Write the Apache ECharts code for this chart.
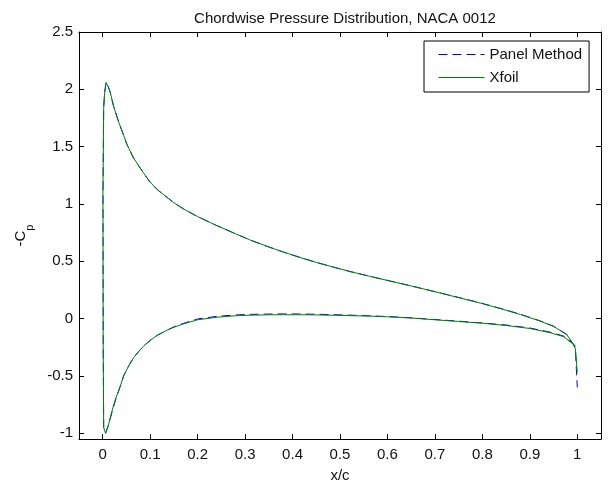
<!DOCTYPE html>
<html><head><meta charset="utf-8">
<script src="https://cdn.jsdelivr.net/npm/echarts@6/dist/echarts.min.js"></script>
<style>html,body{margin:0;padding:0;background:#fff}#c{width:608px;height:488px}</style>
</head><body><div id="c"></div>
<script>
const titleText = 'Chordwise Pressure Distribution, NACA 0012';
const seriesNames = ['Panel Method', 'Xfoil'];
const xTicks = [0, 0.1, 0.2, 0.3, 0.4, 0.5, 0.6, 0.7, 0.8, 0.9, 1];
const yTicks = [-1, -0.5, 0, 0.5, 1, 1.5, 2, 2.5];

// lower surface, leading edge -> trailing edge
const xLower = [0.001, 0.002, 0.006, 0.012, 0.016, 0.022, 0.027, 0.037, 0.044, 0.055, 0.065, 0.075, 0.086, 0.1, 0.115, 0.136, 0.15, 0.171, 0.2, 0.241, 0.28, 0.311, 0.35, 0.381, 0.42, 0.452, 0.49, 0.522, 0.56, 0.6, 0.65, 0.7, 0.75, 0.8, 0.85, 0.9, 0.943, 0.971, 0.989, 0.996];
const cpLowerPanel = [-0.22, -0.95, -1.0, -0.93, -0.87, -0.78, -0.71, -0.59, -0.50, -0.41, -0.34, -0.29, -0.24, -0.19, -0.145, -0.10, -0.072, -0.04, -0.003, 0.02, 0.032, 0.037, 0.04, 0.041, 0.04, 0.038, 0.034, 0.03, 0.025, 0.018, 0.007, -0.008, -0.022, -0.038, -0.056, -0.082, -0.118, -0.152, -0.21, -0.24];
const cpLowerXfoil = [-0.22, -0.95, -1.0, -0.93, -0.86, -0.77, -0.70, -0.59, -0.50, -0.41, -0.34, -0.29, -0.24, -0.19, -0.145, -0.10, -0.075, -0.045, -0.01, 0.012, 0.025, 0.03, 0.033, 0.034, 0.034, 0.032, 0.029, 0.026, 0.022, 0.016, 0.005, -0.01, -0.025, -0.04, -0.06, -0.086, -0.123, -0.157, -0.215, -0.24];

// upper surface, leading edge -> trailing edge
const xUpper = [0.0005, 0.002, 0.004, 0.007, 0.009, 0.012, 0.016, 0.023, 0.034, 0.044, 0.051, 0.065, 0.086, 0.1, 0.115, 0.15, 0.171, 0.2, 0.241, 0.28, 0.311, 0.35, 0.381, 0.42, 0.452, 0.49, 0.522, 0.56, 0.6, 0.65, 0.7, 0.75, 0.796, 0.84, 0.88, 0.922, 0.95, 0.978, 0.992, 0.996, 1.0];
const cpUpperPanel = [1.09, 1.84, 1.97, 2.06, 2.07, 2.02, 1.97, 1.85, 1.71, 1.60, 1.52, 1.40, 1.27, 1.19, 1.125, 1.01, 0.955, 0.89, 0.81, 0.74, 0.685, 0.625, 0.58, 0.528, 0.488, 0.445, 0.41, 0.372, 0.333, 0.285, 0.235, 0.185, 0.137, 0.087, 0.038, -0.02, -0.066, -0.138, -0.226, -0.26, -0.6];
const cpUpperXfoil = [1.09, 1.84, 1.97, 2.06, 2.07, 2.02, 1.97, 1.85, 1.71, 1.60, 1.52, 1.40, 1.27, 1.19, 1.125, 1.01, 0.955, 0.89, 0.81, 0.74, 0.685, 0.625, 0.58, 0.528, 0.488, 0.445, 0.41, 0.372, 0.333, 0.285, 0.235, 0.183, 0.135, 0.085, 0.036, -0.022, -0.068, -0.14, -0.228, -0.26, -0.47];

function surfacePath(xl, yl, xu, yu) {
  const d = [];
  for (let i = xl.length - 1; i >= 0; i--) d.push([xl[i], yl[i]]);
  for (let i = 0; i < xu.length; i++) d.push([xu[i], yu[i]]);
  return d;
}
const FONT = '"Liberation Sans", Arial, Helvetica, sans-serif';
const FS = 15;
const fmt = v => String(+(+v).toFixed(2));

const chart = echarts.init(document.getElementById('c'), null, {renderer: 'canvas'});
const axBase = {
  type: 'value',
  axisLine: {show: true, onZero: false, lineStyle: {color: '#000', width: 1}},
  splitLine: {show: false}
};
chart.setOption({
  animation: false,
  backgroundColor: '#fff',
  textStyle: {fontFamily: FONT},
  title: {
    text: titleText, left: 340, top: 6, textAlign: 'center',
    textStyle: {fontFamily: FONT, fontSize: FS, fontWeight: 'normal', color: '#111'}
  },
  grid: {left: 79, right: 7, top: 32, bottom: 45, containLabel: false},
  legend: {
    data: seriesNames, orient: 'vertical', left: 424, top: 41,
    padding: [6, 7, 7, 14], itemGap: 8, itemWidth: 46, itemHeight: 12,
    backgroundColor: '#fff', borderColor: '#000', borderWidth: 1, borderRadius: 0,
    itemStyle: {opacity: 0},
    lineStyle: {width: 1},
    textStyle: {fontFamily: FONT, fontSize: FS, color: '#111'}
  },
  xAxis: [
    Object.assign({}, axBase, {
      min: -0.05, max: 1.05, position: 'bottom',
      axisTick: {show: true, inside: true, length: 5, customValues: xTicks, lineStyle: {color: '#000'}},
      axisLabel: {show: true, customValues: xTicks, formatter: fmt, color: '#111', fontSize: FS, fontFamily: FONT, margin: 8},
      name: 'x/c', nameLocation: 'middle', nameGap: 29,
      nameTextStyle: {fontFamily: FONT, fontSize: FS, color: '#111'}
    }),
    Object.assign({}, axBase, {
      min: -0.05, max: 1.05, position: 'top',
      axisTick: {show: true, inside: true, length: 5, customValues: xTicks, lineStyle: {color: '#000'}},
      axisLabel: {show: false}
    })
  ],
  yAxis: [
    Object.assign({}, axBase, {
      min: -1.05, max: 2.5, position: 'left',
      axisTick: {show: true, inside: true, length: 5, customValues: yTicks, lineStyle: {color: '#000'}},
      axisLabel: {show: true, customValues: yTicks, formatter: fmt, color: '#111', fontSize: FS, fontFamily: FONT, margin: 6},
      name: '{a|-C}{b|p}', nameLocation: 'middle', nameGap: 44,
      nameTextStyle: {
        rich: {
          a: {fontFamily: FONT, fontSize: FS, color: '#111', lineHeight: 17, verticalAlign: 'top'},
          b: {fontFamily: FONT, fontSize: 11, color: '#111', lineHeight: 22, verticalAlign: 'bottom'}
        }
      }
    }),
    Object.assign({}, axBase, {
      min: -1.05, max: 2.5, position: 'right',
      axisTick: {show: true, inside: true, length: 5, customValues: yTicks, lineStyle: {color: '#000'}},
      axisLabel: {show: false}
    })
  ],
  series: [
    {
      name: seriesNames[0], type: 'line', symbol: 'none', showSymbol: false, z: 2,
      data: surfacePath(xLower, cpLowerPanel, xUpper, cpUpperPanel),
      lineStyle: {color: '#0000ff', width: 1, type: [9, 5]}, itemStyle: {color: '#0000ff'}
    },
    {
      name: seriesNames[1], type: 'line', symbol: 'none', showSymbol: false, z: 3,
      data: surfacePath(xLower, cpLowerXfoil, xUpper, cpUpperXfoil),
      lineStyle: {color: '#008000', width: 1}, itemStyle: {color: '#008000'}
    }
  ]
});
</script>
</body></html>
